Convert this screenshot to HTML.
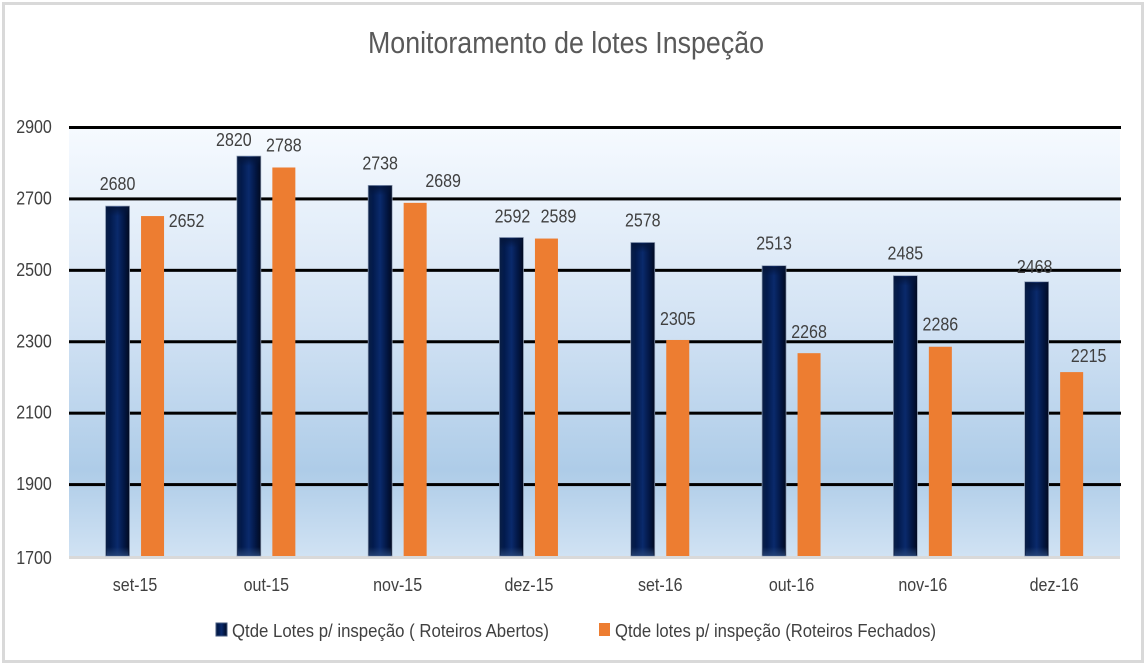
<!DOCTYPE html>
<html lang="pt">
<head>
<meta charset="utf-8">
<title>Monitoramento de lotes Inspeção</title>
<style>
html,body{margin:0;padding:0;background:#fff;width:1145px;height:666px;overflow:hidden}
svg{display:block}
text{font-family:"Liberation Sans",sans-serif;fill:#404040}
</style>
</head>
<body>
<svg id="chart" xmlns="http://www.w3.org/2000/svg" width="1145" height="666" viewBox="0 0 1145 666">
  <defs>
    <linearGradient id="plotBg" x1="0" y1="0" x2="0" y2="1">
      <stop offset="0" stop-color="#f6faff"/>
      <stop offset="0.45" stop-color="#d3e3f4"/>
      <stop offset="0.8" stop-color="#aecce8"/>
      <stop offset="1" stop-color="#d0e2f3"/>
    </linearGradient>
    <linearGradient id="darkBar" x1="0" y1="0" x2="1" y2="0">
      <stop offset="0" stop-color="#0a1f45"/>
      <stop offset="0.2" stop-color="#021a4c"/>
      <stop offset="0.5" stop-color="#0a2a6c"/>
      <stop offset="0.8" stop-color="#021540"/>
      <stop offset="1" stop-color="#010a20"/>
    </linearGradient>
    <linearGradient id="darkCap" x1="0" y1="0" x2="0" y2="1">
      <stop offset="0" stop-color="#04153a" stop-opacity="0.9"/>
      <stop offset="1" stop-color="#04153a" stop-opacity="0"/>
    </linearGradient>
    <linearGradient id="darkFoot" x1="0" y1="0" x2="0" y2="1">
      <stop offset="0" stop-color="#2c4a7c" stop-opacity="0"/>
      <stop offset="1" stop-color="#2c4a7c" stop-opacity="0.8"/>
    </linearGradient>
  </defs>
  <rect x="3.5" y="3.5" width="1139" height="658" fill="#fff" stroke="#d9d9d9" stroke-width="3"/>
  <text x="566" y="53" font-size="31" text-anchor="middle" textLength="396" lengthAdjust="spacingAndGlyphs" style="fill:#595959">Monitoramento de lotes Inspeção</text>
  <rect x="69" y="128" width="1051" height="428" fill="url(#plotBg)"/>
  <g id="grid"></g>
  <rect x="69" y="556" width="1051" height="3" fill="#d9d9d9"/>
  <g id="yTicks"></g>
  <g id="marks"></g>
  <g id="xTicks"></g>
  <g id="values"></g>
  <g>
    <g>
      <rect x="216" y="623" width="11" height="13" fill="url(#darkBar)" stroke="#44597f" stroke-width="1"/>
      <text x="232" y="637" font-size="18" textLength="317" lengthAdjust="spacingAndGlyphs">Qtde Lotes p/ inspeção ( Roteiros Abertos)</text>
    </g>
    <g>
      <rect x="599" y="623" width="11" height="13" fill="#ed7d31"/>
      <text x="615" y="637" font-size="18" textLength="321" lengthAdjust="spacingAndGlyphs">Qtde lotes p/ inspeção (Roteiros Fechados)</text>
    </g>
  </g>
</svg>
<script>
const categories = ["set-15","out-15","nov-15","dez-15","set-16","out-16","nov-16","dez-16"];
const seriesOpen = [2680,2820,2738,2592,2578,2513,2485,2468];
const seriesClosed = [2652,2788,2689,2589,2305,2268,2286,2215];
const yTickLabels = [1700,1900,2100,2300,2500,2700,2900];

/* manual label nudges from the default spot above each bar, as in the source chart */
const openNudgeX = [0,-15,0,1,0,0,0,-2];
const openNudgeY = [0,6,0,1,0,0,0,7];
const closedNudgeX = [34,0,28,12,0,0,0,17];
const closedNudgeY = [27,0,0,0,1,1,0,6];

const NS = "http://www.w3.org/2000/svg";
const plotLeft = 69.4, bandWidth = 131.3, plotTop = 127.5, plotBottom = 556;
const yMin = 1700, yMax = 2900;
const barOffset = 17.5, openWidth = 24, closedWidth = 23;
const labelSize = 18, labelSqueeze = 0.89;

function yScale(v){ return plotBottom - (v - yMin) / (yMax - yMin) * (plotBottom - plotTop); }
function xCenter(i){ return plotLeft + bandWidth * (i + 0.5); }
function make(tag, attrs, parent){
  const el = document.createElementNS(NS, tag);
  Object.keys(attrs).forEach(function(k){ el.setAttribute(k, attrs[k]); });
  parent.appendChild(el);
  return el;
}
function squeeze(el){
  el.setAttribute("textLength", (el.getComputedTextLength() * labelSqueeze).toFixed(1));
  el.setAttribute("lengthAdjust", "spacingAndGlyphs");
}

const grid = document.getElementById("grid");
const yTicks = document.getElementById("yTicks");
const marks = document.getElementById("marks");
const xTicks = document.getElementById("xTicks");
const valueLayer = document.getElementById("values");

yTickLabels.forEach(function(t){
  const y = yScale(t);
  if (t !== yMin) {
    const line = make("rect", {x: 69, y: y - 1.5, width: 1052, height: 3, fill: "#000"}, grid);
    
    
  }
  const label = make("text", {x: 34, y: (t === yMin ? y + 8 : y + 5.5), "font-size": labelSize, "text-anchor": "middle"}, yTicks);
  
  
  label.textContent = t;
  squeeze(label);
});

categories.forEach(function(c, i){
  const cx = xCenter(i);

  const openTop = yScale(seriesOpen[i]);
  const openX = cx - barOffset - openWidth / 2;
  const openH = plotBottom - openTop;
  const openBar = make("rect", {x: openX, y: openTop, width: openWidth, height: openH, fill: "url(#darkBar)", stroke: "#8f9db5", "stroke-width": 0.7}, marks);
  
  
  const cap = make("rect", {x: openX + 1, y: openTop + 1, width: openWidth - 2, height: Math.min(9, openH), fill: "url(#darkCap)"}, marks);
  
  
  const foot = make("rect", {x: openX + 1, y: plotBottom - 9, width: openWidth - 2, height: 9, fill: "url(#darkFoot)"}, marks);
  
  

  const closedTop = yScale(seriesClosed[i]);
  const closedBar = make("rect", {x: cx + barOffset - closedWidth / 2, y: closedTop, width: closedWidth, height: plotBottom - closedTop, fill: "#ed7d31"}, marks);
  
  

  const xLabel = make("text", {x: cx, y: 591, "font-size": labelSize, "text-anchor": "middle"}, xTicks);
  
  
  xLabel.textContent = c;
  squeeze(xLabel);

  const openLabel = make("text", {x: cx - barOffset + openNudgeX[i], y: openTop - 16 + openNudgeY[i], "font-size": labelSize, "text-anchor": "middle"}, valueLayer);
  
  
  openLabel.textContent = seriesOpen[i];
  squeeze(openLabel);

  const closedLabel = make("text", {x: cx + barOffset + closedNudgeX[i], y: closedTop - 16 + closedNudgeY[i], "font-size": labelSize, "text-anchor": "middle"}, valueLayer);
  
  
  closedLabel.textContent = seriesClosed[i];
  squeeze(closedLabel);
});
</script>
</body>
</html>
